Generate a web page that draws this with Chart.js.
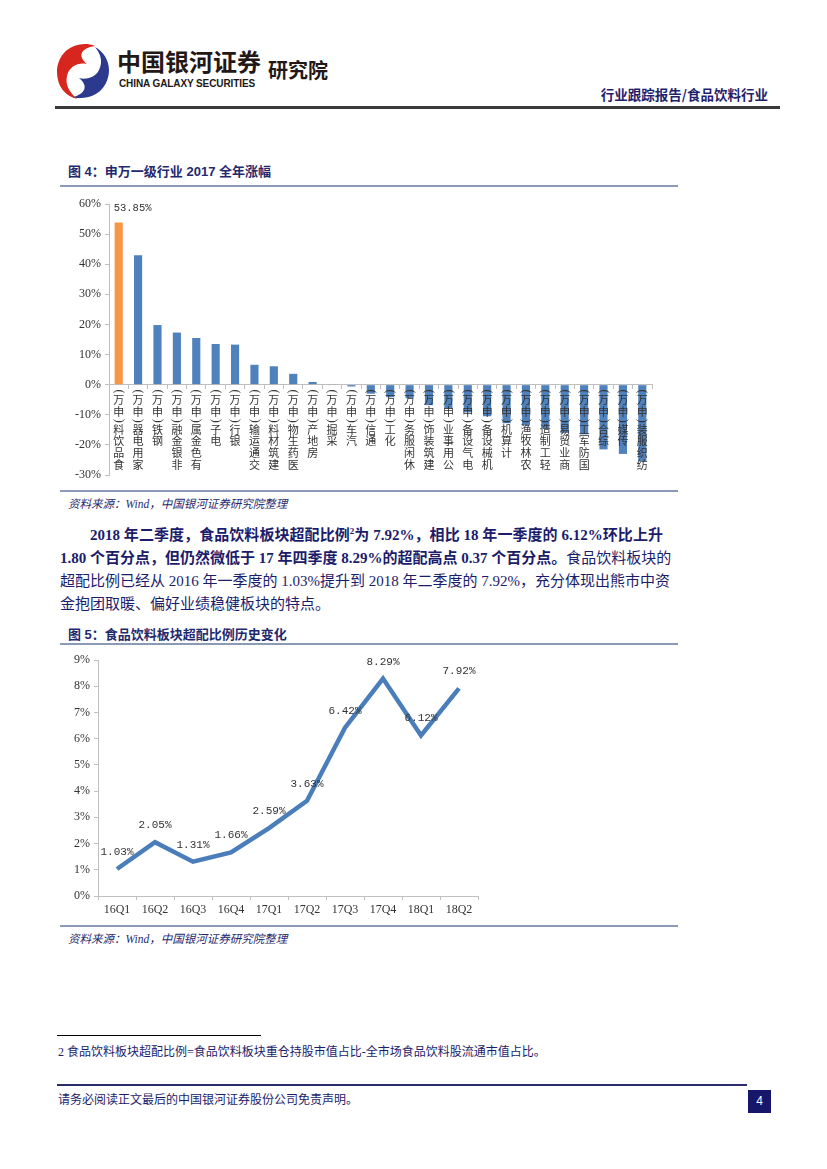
<!DOCTYPE html>
<html>
<head>
<meta charset="utf-8">
<script src="https://cdn.jsdelivr.net/npm/chart.js@4.4.1/dist/chart.umd.min.js"></script>
<style>
    body { margin: 0; width: 827px; height: 1169px; background: #fff; position: relative; overflow: hidden;
        font-family: "Liberation Serif", "Noto Sans CJK SC", serif; color: #1c1c6b; }
    .abs { position: absolute; }
    .rule { position: absolute; background: #8c9bb5; height: 1.5px; }
    .figTitle { position: absolute; left: 68px; font-family: "Liberation Sans", "Noto Sans CJK SC", sans-serif;
        font-weight: bold; font-size: 13px; color: #1f2a6e; white-space: nowrap; }
    .source { position: absolute; left: 68px; font-size: 11.5px; font-style: italic; color: #1f2a6e; white-space: nowrap; }
    .para { position: absolute; left: 60px; width: 603px; font-size: 15px; line-height: 23px; color: #1c1c6b; }
    .para div { text-align: justify; text-align-last: justify; white-space: nowrap; }
    .para div.last { text-align-last: left; }
    b { font-weight: bold; }
    canvas { position: absolute; }
</style>
</head>
<body>

<!-- header -->
<svg class="abs" style="left:55px;top:42px" width="56" height="58" viewBox="0 0 56 58">
    <path d="M30 2 C12 2 2 16 2 30 C2 44 10 54 22 57 C14 50 10 42 12 34 C14 24 24 20 32 22 C22 14 26 6 40 4 C37 2.5 33 2 30 2Z" fill="#d7261e"/>
    <path d="M26 56 C44 56 54 42 54 28 C54 18 48 9 40 5 C46 12 48 20 44 28 C40 36 30 38 24 36 C34 44 30 52 18 55 C20 56 23 56 26 56Z" fill="#2b3a8c"/>
</svg>
<div class="abs" style="left:117px;top:43px;font-family:'Noto Sans CJK SC';font-weight:bold;font-size:24px;color:#231815;white-space:nowrap">中国银河证券</div>
<div class="abs" style="left:119px;top:78px;font-family:'Liberation Sans';font-weight:bold;font-size:10px;color:#231815;white-space:nowrap;letter-spacing:-0.1px">CHINA GALAXY SECURITIES</div>
<div class="abs" style="left:268px;top:55px;font-family:'Noto Sans CJK SC';font-weight:bold;font-size:20px;color:#231815;white-space:nowrap">研究院</div>
<div class="abs" style="right:59px;top:84px;font-family:'Noto Sans CJK SC';font-weight:bold;font-size:13.5px;color:#1f1f6e;white-space:nowrap">行业跟踪报告/食品饮料行业</div>
<div class="abs" style="left:55px;top:106px;width:725px;height:3px;background:#3a3a3a"></div>

<!-- figure 4 -->
<div class="figTitle" style="top:161px">图 4：申万一级行业 2017 全年涨幅</div>
<div class="rule" style="left:60px;top:185px;width:618px"></div>
<canvas id="gainChart" width="620" height="298" style="left:60px;top:190px;width:620px;height:298px"></canvas>
<div class="rule" style="left:60px;top:490px;width:618px"></div>
<div class="source" style="top:495px">资料来源：Wind，中国银河证券研究院整理</div>

<!-- body text -->
<div class="para" style="top:524px">
    <div style="padding-left:30px"><b>2018 年二季度，食品饮料板块超配比例<sup style="font-size:9px;line-height:0">2</sup>为 7.92%，相比 18 年一季度的 6.12%环比上升</b></div>
    <div><b>1.80 个百分点，但仍然微低于 17 年四季度 8.29%的超配高点 0.37 个百分点。</b>食品饮料板块的</div>
    <div>超配比例已经从 2016 年一季度的 1.03%提升到 2018 年二季度的 7.92%，充分体现出熊市中资</div>
    <div class="last">金抱团取暖、偏好业绩稳健板块的特点。</div>
</div>

<!-- figure 5 -->
<div class="figTitle" style="top:624px">图 5：食品饮料板块超配比例历史变化</div>
<div class="rule" style="left:60px;top:643px;width:618px"></div>
<canvas id="ratioChart" width="430" height="280" style="left:60px;top:645px;width:430px;height:280px"></canvas>
<div class="rule" style="left:60px;top:925px;width:618px"></div>
<div class="source" style="top:930px">资料来源：Wind，中国银河证券研究院整理</div>

<!-- footnote & footer -->
<div class="abs" style="left:57px;top:1035px;width:204px;height:1px;background:#000"></div>
<div class="abs" style="left:58px;top:1042px;font-size:12px;color:#1c1c6b;white-space:nowrap">2&nbsp;食品饮料板块超配比例=食品饮料板块重仓持股市值占比-全市场食品饮料股流通市值占比。</div>
<div class="abs" style="left:57px;top:1084px;width:690px;height:2px;background:#2b2b6e"></div>
<div class="abs" style="left:58px;top:1090px;font-size:12px;color:#1c1c6b;white-space:nowrap">请务必阅读正文最后的中国银河证券股份公司免责声明。</div>
<div class="abs" style="left:748px;top:1090px;width:23px;height:23px;background:#16166b;color:#fff;font-family:'Liberation Sans';font-size:12px;line-height:23px;text-align:center">4</div>

<script>
// Figure 4: SW level-1 industries, full-year 2017 change (%)
const sectorNames = ['食品饮料', '家用电器', '钢铁', '非银金融', '有色金属', '电子', '银行', '交通运输',
    '建筑材料', '医药生物', '房地产', '采掘', '汽车', '通信', '化工', '休闲服务', '建筑装饰', '公用事业',
    '电气设备', '机械设备', '计算机', '农林牧渔', '轻工制造', '商业贸易', '国防军工', '综合', '传媒', '纺织服装'];
const sectorSuffix = '(申万)';
const sectorGains = [53.85, 43.0, 19.8, 17.3, 15.5, 13.5, 13.3, 6.6, 6.1, 3.6, 0.9, 0.2, -0.6, -3.0,
    -4.2, -4.5, -6.8, -8.0, -9.2, -10.5, -12.8, -13.5, -14.5, -16.0, -16.5, -21.5, -23.0, -25.5];

// Figure 5: food & beverage overweight ratio (%)
const quarterLabels = ['16Q1', '16Q2', '16Q3', '16Q4', '17Q1', '17Q2', '17Q3', '17Q4', '18Q1', '18Q2'];
const overweightRatio = [1.03, 2.05, 1.31, 1.66, 2.59, 3.63, 6.42, 8.29, 6.12, 7.92];

const axisGrey = '#bfbfbf';
const tickText = '#333333';

// category names are written rotated (read bottom-up) with the CJK glyphs kept upright,
// so draw them glyph by glyph under the zero line, on top of the bars
const stackedTickPlugin = {
    id: 'stackedTicks',
    afterDatasetsDraw(chart) {
        const xs = chart.scales.x;
        const top = chart.scales.y.getPixelForValue(0) + 4;
        const ctx = chart.ctx;
        ctx.save();
        ctx.fillStyle = tickText;
        ctx.textAlign = 'center';
        ctx.textBaseline = 'middle';
        sectorNames.forEach((name, i) => {
            const x = xs.getPixelForTick(i);
            let y = top;
            Array.from(name + sectorSuffix).reverse().forEach(c => {
                if (c === '(' || c === ')') {
                    ctx.save();
                    ctx.font = '12px "Liberation Serif"';
                    ctx.translate(x, y + 2.8);
                    ctx.rotate(-Math.PI / 2);
                    ctx.fillText(c, 0, 0);
                    ctx.restore();
                    y += 5.6;
                } else {
                    ctx.font = '11px "Noto Sans CJK SC"';
                    ctx.fillText(c, x, y + 5.9);
                    y += 11.8;
                }
            });
        });
        ctx.restore();
    }
};

const gainLabelPlugin = {
    id: 'gainLabel',
    afterDatasetsDraw(chart) {
        const bar = chart.getDatasetMeta(0).data[0];
        const ctx = chart.ctx;
        ctx.save();
        ctx.font = '10.5px "Liberation Mono"';
        ctx.fillStyle = tickText;
        ctx.textAlign = 'left';
        ctx.textBaseline = 'middle';
        ctx.fillText(sectorGains[0].toFixed(2) + '%', bar.x - 5, bar.y - 14);
        ctx.restore();
    }
};

const ratioLabelPlugin = {
    id: 'ratioLabel',
    afterDatasetsDraw(chart) {
        const ctx = chart.ctx;
        ctx.save();
        ctx.font = '11px "Liberation Mono"';
        ctx.fillStyle = tickText;
        ctx.textAlign = 'center';
        ctx.textBaseline = 'middle';
        chart.getDatasetMeta(0).data.forEach((pt, i) => {
            ctx.fillText(overweightRatio[i].toFixed(2) + '%', pt.x, pt.y - 17);
        });
        ctx.restore();
    }
};

new Chart(document.getElementById('gainChart'), {
    type: 'bar',
    data: {
        labels: sectorNames,
        datasets: [{
            data: sectorGains,
            backgroundColor: sectorGains.map((v, i) => i === 0 ? '#f79646' : '#4f81bd'),
            barPercentage: 0.42,
            categoryPercentage: 1
        }]
    },
    options: {
        responsive: false,
        animation: false,
        layout: { padding: { top: 14, right: 28, bottom: 13, left: 0 } },
        plugins: { legend: { display: false }, tooltip: { enabled: false } },
        scales: {
            x: {
                position: { y: 0 },
                z: 1,
                grid: { offset: true, drawOnChartArea: false, tickLength: 4, color: axisGrey },
                border: { color: axisGrey },
                ticks: { display: false, autoSkip: false }
            },
            y: {
                min: -30,
                max: 60,
                afterFit(scale) { scale.width = 49; },
                grid: { drawOnChartArea: false, tickLength: 4, color: axisGrey },
                border: { color: axisGrey },
                ticks: {
                    stepSize: 10, padding: 4, color: tickText,
                    font: { family: 'Liberation Serif', size: 12 },
                    callback: v => v + '%'
                }
            }
        }
    },
    plugins: [stackedTickPlugin, gainLabelPlugin]
});

new Chart(document.getElementById('ratioChart'), {
    type: 'line',
    data: {
        labels: quarterLabels,
        datasets: [{
            data: overweightRatio,
            borderColor: '#4a7ebb',
            borderWidth: 4.5,
            pointRadius: 0,
            tension: 0
        }]
    },
    options: {
        responsive: false,
        animation: false,
        layout: { padding: { top: 15, right: 12, bottom: 0, left: 0 } },
        plugins: { legend: { display: false }, tooltip: { enabled: false } },
        scales: {
            x: {
                offset: true,
                afterFit(scale) { scale.height = 29; },
                grid: { offset: true, drawOnChartArea: false, tickLength: 4, color: axisGrey },
                border: { color: axisGrey },
                ticks: { padding: 3, color: tickText, font: { family: 'Liberation Serif', size: 12 } }
            },
            y: {
                min: 0,
                max: 9,
                afterFit(scale) { scale.width = 38; },
                grid: { drawOnChartArea: false, tickLength: 4, color: axisGrey },
                border: { color: axisGrey },
                ticks: {
                    stepSize: 1, padding: 4, color: tickText,
                    font: { family: 'Liberation Serif', size: 12 },
                    callback: v => v + '%'
                }
            }
        }
    },
    plugins: [ratioLabelPlugin]
});
</script>
</body>
</html>
